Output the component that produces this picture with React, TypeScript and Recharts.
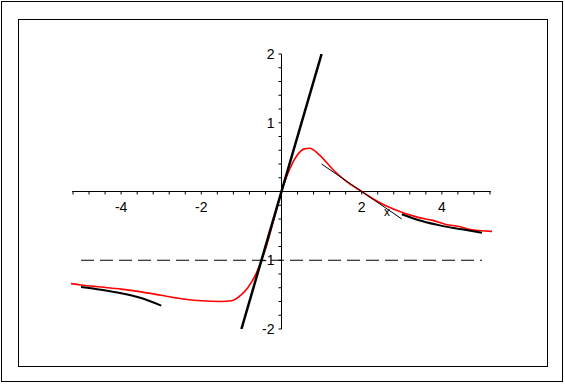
import { LineChart, Line, XAxis, YAxis, ReferenceLine, ReferenceDot } from 'recharts'

// red curve
const curveX = [-5.25, -5, -4.5, -4, -3.5, -3, -2.5, -2, -1.5, -1.25, -1, -0.84, -0.63, -0.38, -0.17, 0, 0.2, 0.37, 0.57, 0.7, 0.95, 1.28, 1.61, 2, 2.44, 2.85, 3.43, 3.77, 4.1, 4.43, 4.68, 5.25]
const curveY = [-1.34, -1.36, -1.39, -1.42, -1.46, -1.51, -1.56, -1.59, -1.6, -1.59, -1.5, -1.4, -1.19, -0.8, -0.36, 0, 0.32, 0.51, 0.62, 0.63, 0.53, 0.32, 0.15, 0, -0.16, -0.27, -0.38, -0.42, -0.48, -0.51, -0.55, -0.58]

// tangent at the origin
const tangent0X = [-1, 1]
const tangent0Y = [-2, 2]

// tangent at x = 2
const tangent2X = [1, 3]
const tangent2Y = [0.4, -0.4]

// left approximation
const leftX = [-5, -4.5, -4, -3.5, -3]
const leftY = [-1.39, -1.43, -1.48, -1.55, -1.66]

// right approximation
const rightX = [3, 3.5, 4, 4.5, 5]
const rightY = [-0.33, -0.43, -0.5, -0.55, -0.6]

// horizontal asymptote
const asymX = [-5, 5]
const asymY = [-1, -1]

const xTicks = [-5.2, -4.8, -4.4, -4, -3.6, -3.2, -2.8, -2.4, -2, -1.6, -1.2, -0.8, -0.4, 0, 0.4, 0.8, 1.2, 1.6, 2, 2.4, 2.8, 3.2, 3.6, 4, 4.4, 4.8, 5.2]
const yTicks = [-2, -1.8, -1.6, -1.4, -1.2, -1, -0.8, -0.6, -0.4, -0.2, 0, 0.2, 0.4, 0.6, 0.8, 1, 1.2, 1.4, 1.6, 1.8, 2]
const xLabels = [-4, -2, 2, 4]
const yLabels = [-2, -1, 1, 2]

const toPoints = (xs: number[], ys: number[]) => xs.map((x, i) => ({ x, y: ys[i] }))

const font = '"Liberation Sans", Arial, sans-serif'

export default function App() {
  return (
    <div style={{ position: 'absolute', left: 0, top: 0, width: 565, height: 384, background: '#fff' }}>
      <div style={{ position: 'absolute', left: 1, top: 1, width: 562, height: 381, border: '1px solid #000', boxSizing: 'border-box' }} />
      <div style={{ position: 'absolute', left: 18, top: 19, width: 530, height: 348, border: '1px solid #000', boxSizing: 'border-box' }} />
      <div style={{ position: 'absolute', left: 0, top: 0 }}>
        <LineChart width={565} height={384} margin={{ top: 54, right: 73, bottom: 55, left: 71 }}>
          <XAxis type="number" dataKey="x" domain={[-5.25, 5.25]} hide allowDataOverflow />
          <YAxis type="number" dataKey="y" domain={[-2, 2]} hide allowDataOverflow />
          <ReferenceLine segment={[{ x: -5.22, y: 0 }, { x: 5.22, y: 0 }]} stroke="#000" strokeWidth={1} />
          <ReferenceLine x={0} stroke="#000" strokeWidth={1} />
          {xTicks.map((t) => (
            <ReferenceDot
              key={'xt' + t}
              x={t}
              y={0}
              r={0}
              shape={(p: any) => <line x1={p.cx} y1={p.cy} x2={p.cx} y2={p.cy + 3} stroke="#000" strokeWidth={1} />}
            />
          ))}
          {yTicks.map((t) => (
            <ReferenceDot
              key={'yt' + t}
              x={0}
              y={t}
              r={0}
              shape={(p: any) => <line x1={p.cx - 3} y1={p.cy} x2={p.cx} y2={p.cy} stroke="#000" strokeWidth={1} />}
            />
          ))}
          {xLabels.map((t) => (
            <ReferenceDot
              key={'xl' + t}
              x={t}
              y={0}
              r={0}
              shape={(p: any) => (
                <text x={p.cx} y={p.cy + 20} textAnchor="middle" fontFamily={font} fontSize={14} fill="#000">
                  {t}
                </text>
              )}
            />
          ))}
          {yLabels.map((t) => (
            <ReferenceDot
              key={'yl' + t}
              x={0}
              y={t}
              r={0}
              shape={(p: any) => (
                <text x={p.cx - 7} y={p.cy + 5} textAnchor="end" fontFamily={font} fontSize={14} fill="#000">
                  {t}
                </text>
              )}
            />
          ))}
          <ReferenceDot
            x={2.63}
            y={-0.3}
            r={0}
            shape={(p: any) => (
              <text x={p.cx} y={p.cy + 4} textAnchor="middle" fontFamily={font} fontSize={12} fill="#000">
                x
              </text>
            )}
          />
          <Line data={toPoints(asymX, asymY)} dataKey="y" type="linear" stroke="#000" strokeWidth={1} strokeDasharray="13 6" dot={false} isAnimationActive={false} />
          <Line data={toPoints(curveX, curveY)} dataKey="y" type="monotone" stroke="#ff0000" strokeWidth={1.6} dot={false} isAnimationActive={false} />
          <Line data={toPoints(tangent0X, tangent0Y)} dataKey="y" type="linear" stroke="#000" strokeWidth={2.5} dot={false} isAnimationActive={false} />
          <Line data={toPoints(tangent2X, tangent2Y)} dataKey="y" type="linear" stroke="#000" strokeWidth={1} dot={false} isAnimationActive={false} />
          <Line data={toPoints(leftX, leftY)} dataKey="y" type="monotone" stroke="#000" strokeWidth={2} dot={false} isAnimationActive={false} />
          <Line data={toPoints(rightX, rightY)} dataKey="y" type="monotone" stroke="#000" strokeWidth={2} dot={false} isAnimationActive={false} />
        </LineChart>
      </div>
    </div>
  )
}
